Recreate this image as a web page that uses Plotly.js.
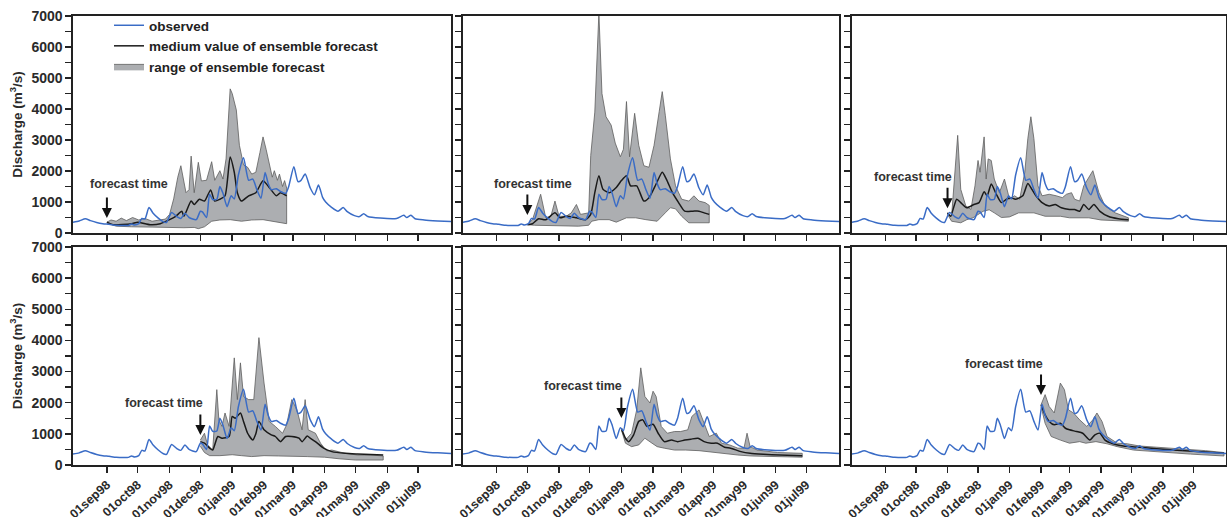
<!DOCTYPE html>
<html>
<head>
<meta charset="utf-8">
<script src="https://cdn.plot.ly/plotly-3.0.1.min.js"></script>
<style>html,body{margin:0;padding:0;background:#fff;}#chart{width:1227px;height:517px;}</style>
</head>
<body>
<div id="chart"></div>
<script>
// ---------- DATA ----------
const obsDates = ['1998-07-30','1998-08-05','1998-08-11','1998-08-16','1998-08-22','1998-08-28','1998-09-03','1998-09-10','1998-09-17','1998-09-22','1998-09-25','1998-09-28','1998-10-02','1998-10-05','1998-10-08','1998-10-12','1998-10-16','1998-10-21','1998-10-26','1998-10-29','1998-11-03','1998-11-08','1998-11-12','1998-11-16','1998-11-20','1998-11-27','1998-12-01','1998-12-03','1998-12-07','1998-12-10','1998-12-13','1998-12-17','1998-12-20','1998-12-23','1998-12-27','1998-12-31','1999-01-03','1999-01-07','1999-01-12','1999-01-17','1999-01-21','1999-01-25','1999-01-29','1999-02-02','1999-02-05','1999-02-08','1999-02-13','1999-02-17','1999-02-22','1999-02-25','1999-03-02','1999-03-06','1999-03-09','1999-03-13','1999-03-18','1999-03-22','1999-03-26','1999-03-30','1999-04-02','1999-04-08','1999-04-14','1999-04-19','1999-04-23','1999-04-30','1999-05-05','1999-05-09','1999-05-13','1999-05-25','1999-06-10','1999-06-17','1999-06-20','1999-06-24','1999-06-28','1999-07-07','1999-07-20','1999-08-02'];
const obsValues = [350,390,460,400,340,300,280,250,240,245,290,260,300,470,450,820,640,480,360,340,660,530,470,640,500,430,700,680,500,1250,1080,1090,1500,1280,850,1200,1100,1870,2430,1700,1740,1400,1120,1950,1600,1400,1430,1340,1280,1500,2140,1660,1700,1900,1450,1230,1550,1150,1000,820,700,820,690,560,530,620,530,480,470,570,500,570,460,420,390,370];

const forecastStarts = ['1998-09-01','1998-10-01','1998-11-01','1998-12-01','1999-01-01','1999-02-01'];

// Panel 1 (forecast 01sep98)
const p1UpperDates = ['1998-09-01','1998-09-05','1998-09-10','1998-09-15','1998-09-20','1998-09-26','1998-10-02','1998-10-08','1998-10-15','1998-10-22','1998-10-28','1998-11-01','1998-11-05','1998-11-09','1998-11-12','1998-11-17','1998-11-20','1998-11-22','1998-11-25','1998-11-29','1998-12-02','1998-12-07','1998-12-12','1998-12-15','1998-12-20','1998-12-23','1998-12-26','1998-12-30','1999-01-01','1999-01-05','1999-01-08','1999-01-12','1999-01-16','1999-01-20','1999-01-24','1999-01-28','1999-01-31','1999-02-03','1999-02-06','1999-02-09','1999-02-11','1999-02-14','1999-02-16','1999-02-19','1999-02-21','1999-02-23'];
const p1Upper = [350,420,380,480,400,500,420,470,380,420,450,600,1100,1800,2170,1300,1400,2480,1300,2280,1680,1700,2300,1700,2010,1740,2390,4650,4500,3970,2830,2200,2120,1900,1960,2600,3100,2700,2230,1800,2010,1700,1900,1500,1690,1450];
const p1LowerDates = ['1998-09-01','1998-09-10','1998-09-25','1998-10-15','1998-11-01','1998-11-15','1998-11-25','1998-11-29','1998-12-05','1998-12-12','1998-12-20','1998-12-30','1999-01-10','1999-01-20','1999-01-31','1999-02-10','1999-02-23'];
const p1Lower = [320,220,200,190,170,170,180,140,200,380,420,430,380,420,430,380,300];
const p1MedianDates = ['1998-09-01','1998-09-07','1998-09-25','1998-10-01','1998-10-13','1998-10-23','1998-11-01','1998-11-07','1998-11-13','1998-11-15','1998-11-22','1998-11-25','1998-11-30','1998-12-05','1998-12-11','1998-12-15','1998-12-20','1998-12-25','1998-12-30','1999-01-03','1999-01-06','1999-01-10','1999-01-17','1999-01-24','1999-01-31','1999-02-06','1999-02-13','1999-02-17','1999-02-23'];
const p1Median = [350,270,300,350,270,300,430,540,700,540,1030,920,1090,1030,1390,1030,1090,1200,2450,1960,1300,1030,1200,1300,1685,1470,1200,1300,1200];

// Panel 2 (forecast 01oct98)
const p2UpperDates = ['1998-10-01','1998-10-06','1998-10-14','1998-10-19','1998-10-24','1998-10-28','1998-11-01','1998-11-08','1998-11-13','1998-11-18','1998-11-22','1998-11-30','1998-12-02','1998-12-06','1998-12-10','1998-12-13','1998-12-17','1998-12-22','1998-12-26','1998-12-31','1999-01-03','1999-01-06','1999-01-09','1999-01-14','1999-01-18','1999-01-23','1999-01-28','1999-02-02','1999-02-07','1999-02-10','1999-02-13','1999-02-18','1999-02-23','1999-03-01','1999-03-08','1999-03-13','1999-03-18','1999-03-24','1999-03-28'];
const p2Upper = [270,430,1250,490,540,1030,540,540,650,920,600,650,2500,3900,7100,4500,3750,3480,2900,2460,2700,4240,2460,3860,2830,2170,2120,2830,3910,4560,3800,2390,1520,1090,1030,1200,1030,980,890];
const p2LowerDates = ['1998-10-01','1998-10-08','1998-10-20','1998-11-05','1998-11-20','1998-11-30','1998-12-03','1998-12-10','1998-12-20','1998-12-27','1999-01-06','1999-01-15','1999-01-25','1999-02-05','1999-02-13','1999-02-18','1999-02-23','1999-03-01','1999-03-08','1999-03-28'];
const p2Lower = [270,250,220,230,220,250,380,430,430,350,490,490,430,380,650,815,780,540,330,330];
const p2MedianDates = ['1998-10-01','1998-10-06','1998-10-12','1998-10-19','1998-10-28','1998-11-02','1998-11-08','1998-11-18','1998-11-27','1998-12-02','1998-12-06','1998-12-10','1998-12-14','1998-12-20','1998-12-27','1999-01-01','1999-01-06','1999-01-10','1999-01-16','1999-01-23','1999-01-28','1999-02-04','1999-02-10','1999-02-14','1999-02-20','1999-02-26','1999-03-04','1999-03-12','1999-03-18','1999-03-23','1999-03-28'];
const p2Median = [270,300,460,430,650,490,540,490,430,600,1300,1850,1410,1300,1470,1690,1850,1520,1520,1030,1140,1580,1960,1740,1300,980,705,705,705,650,600];

// Panel 3 (forecast 01nov98)
const p3UpperDates = ['1998-11-01','1998-11-05','1998-11-11','1998-11-14','1998-11-19','1998-11-24','1998-11-28','1998-12-01','1998-12-03','1998-12-07','1998-12-09','1998-12-11','1998-12-14','1998-12-17','1998-12-22','1998-12-27','1999-01-01','1999-01-06','1999-01-11','1999-01-16','1999-01-19','1999-01-22','1999-01-25','1999-01-29','1999-02-02','1999-02-09','1999-02-16','1999-02-22','1999-02-26','1999-03-03','1999-03-06','1999-03-11','1999-03-15','1999-03-20','1999-03-24','1999-03-30','1999-04-05','1999-04-15','1999-04-24','1999-04-28'];
const p3Upper = [650,540,3150,1410,870,760,1520,2340,1960,3100,1740,2390,2340,1740,1300,1740,1090,1200,1090,1960,3040,3750,3040,1520,1200,1250,1200,1140,1250,1300,1090,1030,1520,1800,2010,1300,870,650,540,490];
const p3LowerDates = ['1998-11-01','1998-11-05','1998-11-14','1998-11-20','1998-11-26','1998-12-01','1998-12-06','1998-12-12','1998-12-17','1998-12-24','1999-01-01','1999-01-10','1999-01-25','1999-02-05','1999-02-20','1999-03-01','1999-03-20','1999-04-01','1999-04-28'];
const p3Lower = [600,380,330,430,490,600,700,750,650,500,520,650,650,540,540,490,490,420,380];
const p3MedianDates = ['1998-11-01','1998-11-04','1998-11-10','1998-11-14','1998-11-20','1998-11-27','1998-12-02','1998-12-07','1998-12-10','1998-12-14','1998-12-19','1998-12-24','1998-12-29','1999-01-02','1999-01-07','1999-01-14','1999-01-19','1999-01-23','1999-01-27','1999-02-02','1999-02-09','1999-02-15','1999-02-21','1999-03-01','1999-03-06','1999-03-11','1999-03-15','1999-03-20','1999-03-25','1999-03-31','1999-04-08','1999-04-18','1999-04-28'];
const p3Median = [650,540,1090,980,815,920,980,1330,1200,1580,1250,980,1090,1140,1090,1200,1600,1410,1200,980,870,920,815,760,760,700,920,760,920,700,540,460,430];

// Panel 4 (forecast 01dec98)
const p4UpperDates = ['1998-12-01','1998-12-05','1998-12-08','1998-12-13','1998-12-17','1998-12-19','1998-12-22','1998-12-25','1998-12-29','1999-01-03','1999-01-06','1999-01-09','1999-01-12','1999-01-17','1999-01-22','1999-01-27','1999-02-01','1999-02-06','1999-02-12','1999-02-19','1999-02-23','1999-02-28','1999-03-05','1999-03-10','1999-03-13','1999-03-16','1999-03-23','1999-03-28','1999-04-03','1999-04-08','1999-04-21','1999-05-03','1999-05-16','1999-05-28'];
const p4Upper = [800,1020,645,480,2420,1450,1240,1670,1240,3440,2100,3280,2200,2100,2100,4090,2630,1400,1240,1020,1290,2100,1770,1130,2100,1130,1020,700,450,480,375,320,320,290];
const p4LowerDates = ['1998-12-01','1998-12-05','1998-12-10','1998-12-20','1999-01-01','1999-01-10','1999-01-20','1999-02-01','1999-02-15','1999-03-01','1999-03-15','1999-04-01','1999-04-15','1999-05-01','1999-05-28'];
const p4Lower = [600,400,300,300,330,300,270,300,290,270,270,250,200,160,160];
const p4MedianDates = ['1998-12-01','1998-12-05','1998-12-10','1998-12-13','1998-12-18','1998-12-22','1998-12-29','1999-01-01','1999-01-04','1999-01-09','1999-01-12','1999-01-16','1999-01-21','1999-01-24','1999-01-27','1999-02-01','1999-02-08','1999-02-12','1999-02-17','1999-02-22','1999-02-28','1999-03-07','1999-03-10','1999-03-15','1999-03-18','1999-03-23','1999-03-31','1999-04-08','1999-04-21','1999-05-03','1999-05-16','1999-05-28'];
const p4Median = [750,700,540,480,915,860,915,1560,1500,1670,1400,1020,800,1000,1400,1130,970,915,750,915,915,860,750,930,860,750,540,430,375,355,340,320];

// Panel 5 (forecast 01jan99)
const p5UpperDates = ['1999-01-01','1999-01-05','1999-01-11','1999-01-16','1999-01-20','1999-01-24','1999-01-29','1999-02-01','1999-02-04','1999-02-09','1999-02-15','1999-02-22','1999-02-28','1999-03-07','1999-03-11','1999-03-18','1999-03-23','1999-03-28','1999-04-04','1999-04-09','1999-04-17','1999-04-25','1999-05-01','1999-05-04','1999-05-07','1999-05-14','1999-06-03','1999-06-27'];
const p5Upper = [1130,800,1020,1770,3120,2200,1990,2370,2200,1240,1020,1075,1075,1130,1560,1770,1340,915,1020,700,645,540,540,1020,590,480,400,375];
const p5LowerDates = ['1999-01-01','1999-01-05','1999-01-11','1999-01-18','1999-01-24','1999-01-31','1999-02-05','1999-02-12','1999-02-22','1999-03-05','1999-03-18','1999-03-30','1999-04-12','1999-04-25','1999-05-08','1999-05-27','1999-06-27'];
const p5Lower = [1130,700,590,645,860,700,590,540,480,480,460,430,375,320,290,270,250];
const p5MedianDates = ['1999-01-01','1999-01-05','1999-01-08','1999-01-13','1999-01-18','1999-01-22','1999-01-26','1999-02-01','1999-02-06','1999-02-12','1999-02-19','1999-02-25','1999-03-04','1999-03-10','1999-03-17','1999-03-23','1999-03-30','1999-04-05','1999-04-12','1999-04-18','1999-04-28','1999-05-07','1999-05-20','1999-06-05','1999-06-27'];
const p5Median = [1180,860,750,970,1400,1450,1240,1310,1020,750,800,750,800,830,860,750,700,700,570,540,430,375,345,320,300];

// Panel 6 (forecast 01feb99)
const p6UpperDates = ['1999-02-01','1999-02-05','1999-02-09','1999-02-14','1999-02-20','1999-02-24','1999-02-28','1999-03-05','1999-03-11','1999-03-18','1999-03-24','1999-03-28','1999-04-02','1999-04-07','1999-04-17','1999-04-27','1999-05-09','1999-06-11','1999-07-13','1999-07-31'];
const p6Upper = [1935,2260,1880,1670,2630,2420,1770,1670,1450,1240,1450,1670,1400,915,700,680,610,540,460,400];
const p6LowerDates = ['1999-02-01','1999-02-05','1999-02-11','1999-02-20','1999-03-01','1999-03-11','1999-03-17','1999-03-27','1999-04-07','1999-04-17','1999-05-03','1999-05-26','1999-06-28','1999-07-31'];
const p6Lower = [1880,1340,915,800,700,750,700,750,680,590,480,430,350,290];
const p6MedianDates = ['1999-02-01','1999-02-05','1999-02-09','1999-02-14','1999-02-20','1999-02-25','1999-03-01','1999-03-08','1999-03-14','1999-03-21','1999-03-26','1999-03-31','1999-04-05','1999-04-13','1999-04-23','1999-05-09','1999-06-11','1999-07-13','1999-07-31'];
const p6Median = [1935,1610,1400,1290,1340,1180,1130,1075,1020,800,970,1020,800,680,610,570,480,420,375];

const xTickVals = ['1998-09-01','1998-10-01','1998-11-01','1998-12-01','1999-01-01','1999-02-01','1999-03-01','1999-04-01','1999-05-01','1999-06-01','1999-07-01'];
const xTickText = ['01sep98','01oct98','01nov98','01dec98','01jan99','01feb99','01mar99','01apr99','01may99','01jun99','01jul99'];
const yTickVals = [0,500,1000,1500,2000,2500,3000,3500,4000,4500,5000,5500,6000,6500,7000];
const yTickText = ['0','','1000','','2000','','3000','','4000','','5000','','6000','','7000'];

const legendNames = ['observed','medium value of ensemble forecast','range of ensemble forecast'];
const yTitle = 'Discharge (m<sup>3</sup>/s)';
const annotationText = 'forecast time';

// ---------- BUILD ----------
const panels = [
  {ud:p1UpperDates,u:p1Upper,ld:p1LowerDates,l:p1Lower,md:p1MedianDates,m:p1Median},
  {ud:p2UpperDates,u:p2Upper,ld:p2LowerDates,l:p2Lower,md:p2MedianDates,m:p2Median},
  {ud:p3UpperDates,u:p3Upper,ld:p3LowerDates,l:p3Lower,md:p3MedianDates,m:p3Median},
  {ud:p4UpperDates,u:p4Upper,ld:p4LowerDates,l:p4Lower,md:p4MedianDates,m:p4Median},
  {ud:p5UpperDates,u:p5Upper,ld:p5LowerDates,l:p5Lower,md:p5MedianDates,m:p5Median},
  {ud:p6UpperDates,u:p6Upper,ld:p6LowerDates,l:p6Lower,md:p6MedianDates,m:p6Median}
];

const FONT = 'Liberation Sans, Arial, sans-serif';
const BLUE = '#3a6cc6';
const traces = [];
panels.forEach((p, i) => {
  const xa = 'x' + (i === 0 ? '' : i + 1);
  const ya = 'y' + (i === 0 ? '' : i + 1);
  traces.push({
    type:'scatter', mode:'lines', xaxis:xa, yaxis:ya,
    x: p.ud.concat(p.ld.slice().reverse()),
    y: p.u.concat(p.l.slice().reverse()),
    fill:'toself', fillcolor:'#acaeb1',
    line:{color:'#5e5e5e', width:0.8},
    name: legendNames[2], showlegend: i === 0, legendrank: 3, hoverinfo:'skip'
  });
  traces.push({
    type:'scatter', mode:'lines', xaxis:xa, yaxis:ya,
    x: p.md, y: p.m, line:{color:'#1a1a1a', width:1.5, shape:'spline', smoothing:0.6},
    name: legendNames[1], showlegend: i === 0, legendrank: 2
  });
  traces.push({
    type:'scatter', mode:'lines', xaxis:xa, yaxis:ya,
    x: obsDates, y: obsValues, line:{color:BLUE, width:1.5, shape:'spline', smoothing:0.6},
    name: legendNames[0], showlegend: i === 0, legendrank: 1
  });
});

const W = 1227, H = 517;
const colPx = [[73,451],[463,839],[852,1226]];
const rowPx = [[16,233],[247,465]];
const layout = {
  width: W, height: H,
  margin:{l:0,r:0,t:0,b:0},
  paper_bgcolor:'#fff', plot_bgcolor:'#fff',
  font:{family:FONT, color:'#2a2a2a'},
  showlegend:true,
  legend:{x:109/W, y:1-10/H, xanchor:'left', yanchor:'top', bgcolor:'rgba(0,0,0,0)',
          font:{size:13.5, weight:'bold', family:FONT, color:'#222'}, tracegroupgap:0, itemwidth:30},
  annotations:[]
};

const textShift = [22, 6, -35, -36, -38, -37];
const tipVal = [480, 580, 800, 965, 1510, 2250];
const textVal = [1580, 1580, 1800, 1990, 2540, 3250];

for (let i = 0; i < 6; i++) {
  const r = Math.floor(i / 3), c = i % 3;
  const sfx = i === 0 ? '' : String(i + 1);
  const xd = [colPx[c][0]/W, colPx[c][1]/W];
  const yd = [1 - rowPx[r][1]/H, 1 - rowPx[r][0]/H];
  layout['xaxis' + sfx] = {
    domain: xd, anchor: 'y' + sfx, type:'date',
    range:['1998-07-30','1999-08-02'],
    tickvals: xTickVals, ticktext: xTickText,
    showticklabels: r === 1, tickangle: -42,
    tickfont:{size:12.5, weight:'bold', family:FONT, color:'#2a2a2a'},
    ticks:'outside', ticklen:6, tickwidth:1.5, tickcolor:'#222',
    showline:true, mirror:true, linecolor:'#222', linewidth:1.6,
    showgrid:false, zeroline:false
  };
  layout['yaxis' + sfx] = {
    domain: yd, anchor: 'x' + sfx, range:[0,7000],
    tickvals: yTickVals, ticktext: yTickText,
    showticklabels: c === 0,
    tickfont:{size:14, weight:'bold', family:FONT, color:'#2a2a2a'},
    ticks:'outside', ticklen:6, tickwidth:1.5, tickcolor:'#222',
    showline:true, mirror:true, linecolor:'#222', linewidth:1.6,
    showgrid:false, zeroline:false,
    title: c === 0 ? {text: yTitle, font:{size:13.5, weight:'bold', family:FONT, color:'#2a2a2a'}, standoff:6} : {text:''}
  };
  const xr = 'x' + sfx, yr = 'y' + sfx;
  layout.annotations.push({
    xref:xr, yref:yr, x: forecastStarts[i], y: tipVal[i], text:'',
    showarrow:true, arrowhead:2, arrowsize:1, arrowwidth:2, arrowcolor:'#111',
    ax:0, ay:-22
  });
  layout.annotations.push({
    xref:xr, yref:yr, x: forecastStarts[i], y: textVal[i], text: annotationText,
    showarrow:false, xshift: textShift[i], xanchor:'center', yanchor:'middle',
    font:{size:12.5, weight:'bold', family:FONT, color:'#333'}
  });
}

Plotly.newPlot('chart', traces, layout, {staticPlot:true, displayModeBar:false});
</script>
</body>
</html>
